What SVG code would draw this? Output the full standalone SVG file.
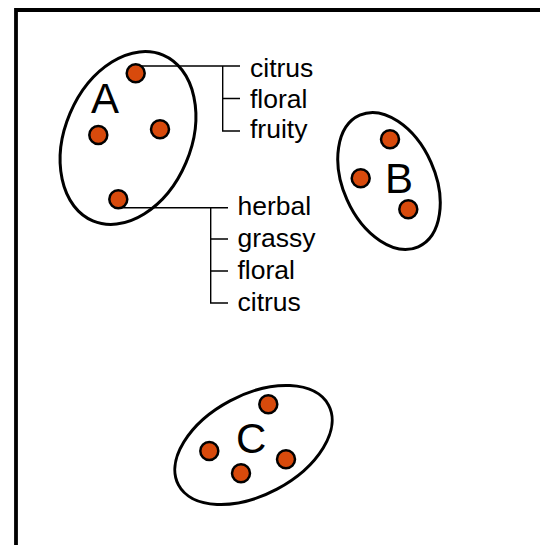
<svg xmlns="http://www.w3.org/2000/svg" width="540" height="545" viewBox="0 0 540 545">
<style>
.frame{fill:none;stroke:#000;stroke-width:3.8}
.cluster{fill:none;stroke:#000;stroke-width:3}
.dot{fill:#D84A0C;stroke:#000;stroke-width:2.5}
.conn{fill:none;stroke:#000;stroke-width:1.4}
.lbl{font-family:"Liberation Sans",Arial,sans-serif;font-size:42px;fill:#000}
.attr{font-family:"Liberation Sans",Arial,sans-serif;font-size:26.5px;fill:#000}
</style>
<rect width="540" height="545" fill="#fff"/>
<path class="frame" d="M16 545 V10 H540"/>
<g id="clusterA">
<ellipse class="cluster" cx="128" cy="138" rx="63" ry="90" transform="rotate(23 128 138)"/>
<text class="lbl" x="91" y="112.5">A</text>
</g>
<g id="clusterB">
<ellipse class="cluster" cx="389" cy="181" rx="46" ry="72" transform="rotate(-24 389 181)"/>
<text class="lbl" x="385" y="192.5">B</text>
</g>
<g id="clusterC">
<ellipse class="cluster" cx="253.5" cy="445" rx="85" ry="50" transform="rotate(-28 253.5 445)"/>
<text class="lbl" x="236" y="453">C</text>
</g>
<g id="connectors">
<path class="conn" d="M136 66 H240 M222.7 66 V131 H240 M222.7 98.5 H240"/>
<path class="conn" d="M118 207.7 H228 M210.7 207.7 V303 H228 M210.7 239 H228 M210.7 271 H228"/>
</g>
<g id="dotsA">
<circle class="dot" cx="135.7" cy="73.3" r="9"/>
<circle class="dot" cx="98.3" cy="135" r="9"/>
<circle class="dot" cx="160" cy="129.3" r="9"/>
<circle class="dot" cx="118.3" cy="199.3" r="9"/>
</g>
<g id="dotsB">
<circle class="dot" cx="390" cy="139.3" r="9"/>
<circle class="dot" cx="360.7" cy="178.3" r="9"/>
<circle class="dot" cx="408.3" cy="209.3" r="9"/>
</g>
<g id="dotsC">
<circle class="dot" cx="268.3" cy="404.3" r="9"/>
<circle class="dot" cx="209.3" cy="451" r="9"/>
<circle class="dot" cx="286" cy="459.3" r="9"/>
<circle class="dot" cx="241" cy="473.3" r="9"/>
</g>
<g id="attrs1">
<text class="attr" x="250" y="77">citrus</text>
<text class="attr" x="250" y="107.5">floral</text>
<text class="attr" x="250" y="138">fruity</text>
</g>
<g id="attrs2">
<text class="attr" x="237.5" y="215">herbal</text>
<text class="attr" x="237.5" y="247">grassy</text>
<text class="attr" x="237.5" y="279">floral</text>
<text class="attr" x="237.5" y="311">citrus</text>
</g>
</svg>
